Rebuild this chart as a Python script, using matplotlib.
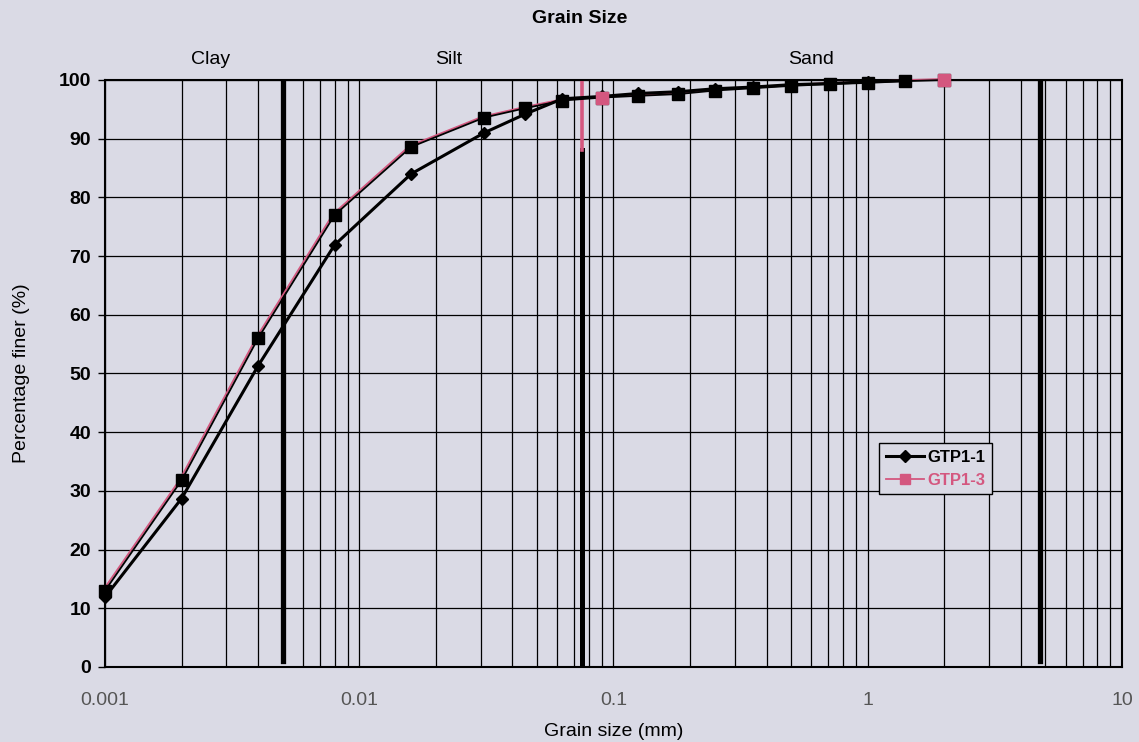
import matplotlib
matplotlib.use("Agg")
import matplotlib.pyplot as plt
import matplotlib.transforms as mtransforms
from matplotlib.lines import Line2D
import numpy as np

plt.rcParams['font.family'] = ['Liberation Sans', 'DejaVu Sans']

# ---- data ----
size_1 = [0.001, 0.002, 0.004, 0.008, 0.016, 0.031, 0.045, 0.063, 0.09, 0.125,
          0.18, 0.25, 0.355, 0.5, 0.71, 1.0, 1.4]
finer_1 = [11.9, 28.7, 51.3, 71.9, 84.0, 91.0, 94.2, 96.8, 97.2, 97.7,
           98.0, 98.5, 98.8, 99.2, 99.4, 99.7, 99.9]

size_3 = [0.001, 0.002, 0.004, 0.008, 0.016, 0.031, 0.045, 0.063, 0.09, 0.125,
          0.18, 0.25, 0.355, 0.5, 0.71, 1.0, 1.4, 2.0]
finer_3 = [13.0, 31.8, 56.0, 77.0, 88.6, 93.6, 95.2, 96.5, 97.0, 97.3,
           97.6, 98.2, 98.6, 99.0, 99.3, 99.5, 99.8, 100.0]

boundaries = [0.005, 0.075, 4.75]
zone_names = ['Clay', 'Silt', 'Sand']
zone_pos = [0.0026, 0.0225, 0.6]
x_ticks = [0.001, 0.01, 0.1, 1, 10]
x_ticklabels = ['0.001', '0.01', '0.1', '1', '10']
y_ticks = list(range(0, 101, 10))

BG = '#DADAE5'
PINK = '#D4577F'

fig = plt.figure(figsize=(11.39, 7.42), dpi=100, facecolor=BG)
ax = fig.add_axes([0.0922, 0.1011, 0.8928, 0.7911], facecolor=BG)
ax.set_xscale('log')
ax.set_xlim(0.001, 10)
ax.set_ylim(0, 100)

# grid: every log minor + major tick, horizontal each 10
for dec in [0.001, 0.01, 0.1, 1]:
    for m in range(1, 10):
        xv = dec * m
        if any(abs(xv - b) / b < 0.02 for b in boundaries):
            continue
        ax.axvline(xv, color='black', lw=0.9, zorder=1)
for yv in y_ticks:
    ax.axhline(yv, color='black', lw=0.9, zorder=1)

# boundary lines
ax.plot([boundaries[0]] * 2, [1, 100], color='black', lw=3.8, zorder=2)
ax.plot([boundaries[1]] * 2, [0, 88], color='black', lw=3.6, zorder=2)
ax.plot([boundaries[1]] * 2, [88, 100], color=PINK, lw=2.6, zorder=2)
ax.plot([boundaries[2]] * 2, [1, 100], color='black', lw=3.8, zorder=2)

# GTP1-3 with pink fringe (print misregistration look)
off = mtransforms.offset_copy(ax.transData, fig=fig, x=-1.5, y=1.0, units='dots')
ax.plot(size_3, finer_3, color=PINK, lw=1.3, transform=off, zorder=3, clip_on=False)
ax.plot(size_3, finer_3, color='black', lw=1.3, marker='s', ms=8,
        mfc='black', mec='black', zorder=4, clip_on=False)
ax.plot([size_3[8], size_3[-1]], [finer_3[8], finer_3[-1]], ls='none',
        marker='s', ms=8, mfc=PINK, mec=PINK, zorder=6, clip_on=False)

# GTP1-1
ax.plot(size_1, finer_1, color='black', lw=2.2, marker='D', ms=6.5,
        mfc='black', mec='black', zorder=5, clip_on=False)

# ticks
ax.set_xticks(x_ticks)
ax.set_xticklabels(x_ticklabels, color='#555555', fontsize=14)
ax.xaxis.set_minor_locator(matplotlib.ticker.NullLocator())
ax.tick_params(axis='x', length=0, pad=18)
ax.set_yticks(y_ticks)
ax.set_yticklabels([str(v) for v in y_ticks], fontsize=14, fontweight='bold')
ax.tick_params(axis='y', length=5, width=1, pad=5)

for sp in ax.spines.values():
    sp.set_color('black')
    sp.set_linewidth(1.5)

ax.set_xlabel('Grain size (mm)', fontsize=14, labelpad=10)
ax.set_ylabel('Percentage finer (%)', fontsize=14, labelpad=21)

fig.text(0.509, 0.975, 'Grain Size', ha='center', va='center', fontsize=14,
         fontweight='bold')
for name, xp in zip(zone_names, zone_pos):
    ax.text(xp, 103.5, name, ha='center', va='center', fontsize=14)

handles = [Line2D([], [], color='black', lw=2.2, marker='D', ms=6.5),
           Line2D([], [], color=PINK, lw=1.3, marker='s', ms=7)]
leg = ax.legend(handles, ['GTP1-1', 'GTP1-3'], loc='upper left',
                bbox_to_anchor=(0.761, 0.381), frameon=True, fancybox=False,
                framealpha=1, facecolor=BG, edgecolor='black',
                prop={'weight': 'bold', 'size': 12}, handlelength=2.3,
                handletextpad=0.2, borderpad=0.4, labelspacing=0.45,
                borderaxespad=0)
leg.get_frame().set_linewidth(1.0)
leg.get_texts()[1].set_color(PINK)

fig.savefig('out.png', dpi=100, facecolor=BG)
